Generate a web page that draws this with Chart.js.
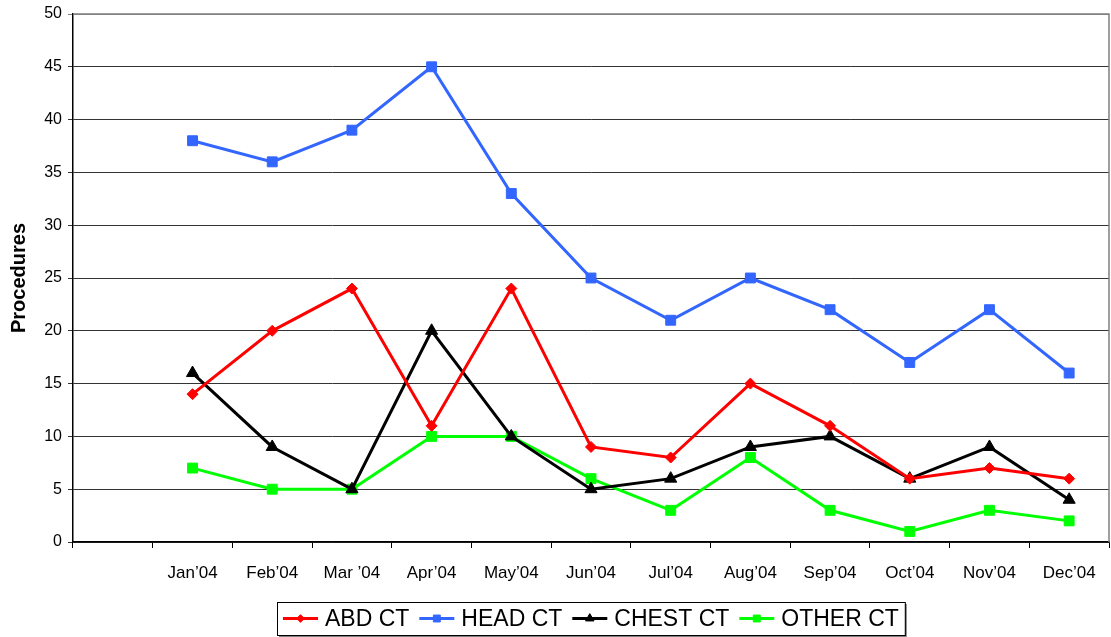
<!DOCTYPE html>
<html>
<head>
<meta charset="utf-8">
<script src="https://cdn.jsdelivr.net/npm/chart.js@4/dist/chart.umd.min.js"></script>
<style>
  html, body { margin: 0; padding: 0; background: #fff; overflow: hidden; }
  #wrap { width: 1111px; height: 637px; position: relative; }
  canvas { display: block; }
</style>
</head>
<body>
<div id="wrap"><canvas id="ctChart"></canvas></div>
<script>
// ── Data ─────────────────────────────────────────
const months = ['', 'Jan’04', 'Feb’04', 'Mar ’04', 'Apr’04', 'May’04', 'Jun’04',
  'Jul’04', 'Aug’04', 'Sep’04', 'Oct’04', 'Nov’04', 'Dec’04'];
const abdCT   = [null, 14, 20, 24, 11, 24, 9, 8, 15, 11, 6, 7, 6];
const headCT  = [null, 38, 36, 39, 45, 33, 25, 21, 25, 22, 17, 22, 16];
const chestCT = [null, 16, 9, 5, 20, 10, 5, 6, 9, 10, 6, 9, 4];
const otherCT = [null, 7, 5, 5, 10, 10, 6, 3, 8, 3, 1, 3, 2];
const yTicks  = [0, 5, 10, 15, 20, 25, 30, 35, 40, 45, 50];

const FONT = '"Liberation Sans", Arial, sans-serif';

const series = [
  { label: 'ABD CT', data: abdCT, color: '#ff0000', pointStyle: 'rectRot', r: 5.5 },
  { label: 'HEAD CT', data: headCT, color: '#3366ff', pointStyle: 'rect', r: 7 },
  { label: 'CHEST CT', data: chestCT, color: '#000000', pointStyle: 'triangle', r: 7 },
  { label: 'OTHER CT', data: otherCT, color: '#00ff00', pointStyle: 'rect', r: 7 },
];

// ── Plot frame: grey top and right edge ──────────
const frame = {
  id: 'frame',
  beforeDatasetsDraw(chart) {
    const { ctx, chartArea: a } = chart;
    ctx.save();
    ctx.strokeStyle = '#808080';
    ctx.lineWidth = 1.5;
    ctx.beginPath();
    ctx.moveTo(a.left, a.top);
    ctx.lineTo(a.right, a.top);
    ctx.lineTo(a.right, a.bottom);
    ctx.stroke();
    ctx.restore();
  },
};

// ── Boxed legend under the axis ──────────────────
const boxLegend = {
  id: 'boxLegend',
  afterDraw(chart) {
    const { ctx } = chart;
    const lineW = 35, gap = 7, itemGap = 10, padX = 6;
    ctx.save();
    ctx.font = '23px ' + FONT;
    const widths = series.map((s) => ctx.measureText(s.label).width);
    const total = padX * 2 + widths.reduce((a, w) => a + lineW + gap + w, 0) + itemGap * (series.length - 1);
    const cx = 591, top = 602, h = 33;
    const left = Math.round(cx - total / 2);

    // shadow + box
    ctx.fillStyle = '#808080';
    ctx.fillRect(left + 2, top + 2, total, h);
    ctx.fillStyle = '#fff';
    ctx.fillRect(left, top, total, h);
    ctx.strokeStyle = '#000';
    ctx.lineWidth = 1;
    ctx.strokeRect(left + 0.5, top + 0.5, total, h);

    let x = left + padX;
    const my = top + h / 2;
    series.forEach((s, i) => {
      ctx.strokeStyle = s.color;
      ctx.lineWidth = 3;
      ctx.beginPath();
      ctx.moveTo(x, my);
      ctx.lineTo(x + lineW, my);
      ctx.stroke();
      ctx.fillStyle = s.color;
      ctx.strokeStyle = s.color;
      ctx.lineWidth = 1;
      Chart.helpers.drawPoint(ctx, { pointStyle: s.pointStyle, radius: s.r * 0.7, rotation: 0, borderWidth: 1 }, x + lineW / 2, my);
      x += lineW + gap;
      ctx.fillStyle = '#000';
      ctx.textBaseline = 'middle';
      ctx.textAlign = 'left';
      ctx.fillText(s.label, x, my + 1);
      x += widths[i] + itemGap;
    });
    ctx.restore();
  },
};

new Chart(document.getElementById('ctChart'), {
  type: 'line',
  data: {
    labels: months,
    datasets: series.map((s) => ({
      label: s.label,
      data: s.data,
      borderColor: s.color,
      backgroundColor: s.color,
      borderWidth: 3,
      pointStyle: s.pointStyle,
      pointRadius: s.r,
      pointBorderWidth: 1,
      tension: 0,
      spanGaps: false,
    })),
  },
  options: {
    responsive: true,
    maintainAspectRatio: false,
    animation: false,
    layout: { autoPadding: false, padding: { top: 14, right: 2, left: 0, bottom: 0 } },
    plugins: {
      legend: { display: false },
      tooltip: { enabled: false },
    },
    scales: {
      x: {
        offset: true,
        grid: { offset: true, drawOnChartArea: false, tickLength: 6, color: '#000' },
        border: { color: '#000', width: 1.5 },
        ticks: { color: '#000', font: { family: FONT, size: 17 }, padding: 15, maxRotation: 0, autoSkip: false },
        afterFit: (s) => { s.height = 95; s.paddingLeft = 0; s.paddingRight = 0; },
      },
      y: {
        min: 0,
        max: 50,
        afterBuildTicks: (s) => { s.ticks = yTicks.map((v) => ({ value: v })); },
        grid: { color: (c) => (c.tick && c.tick.value === 50 ? '#808080' : '#333'), tickLength: 5, lineWidth: 1 },
        border: { color: '#000', width: 1.5 },
        ticks: { color: '#000', font: { family: FONT, size: 16 }, padding: 6 },
        title: {
          display: true,
          text: 'Procedures',
          color: '#000',
          font: { family: FONT, size: 20, weight: 'bold' },
          padding: { top: 7, bottom: 0 },
        },
        afterFit: (s) => { s.width = 73; s.paddingTop = 0; s.paddingBottom = 0; },
      },
    },
  },
  plugins: [frame, boxLegend],
});
</script>
</body>
</html>
